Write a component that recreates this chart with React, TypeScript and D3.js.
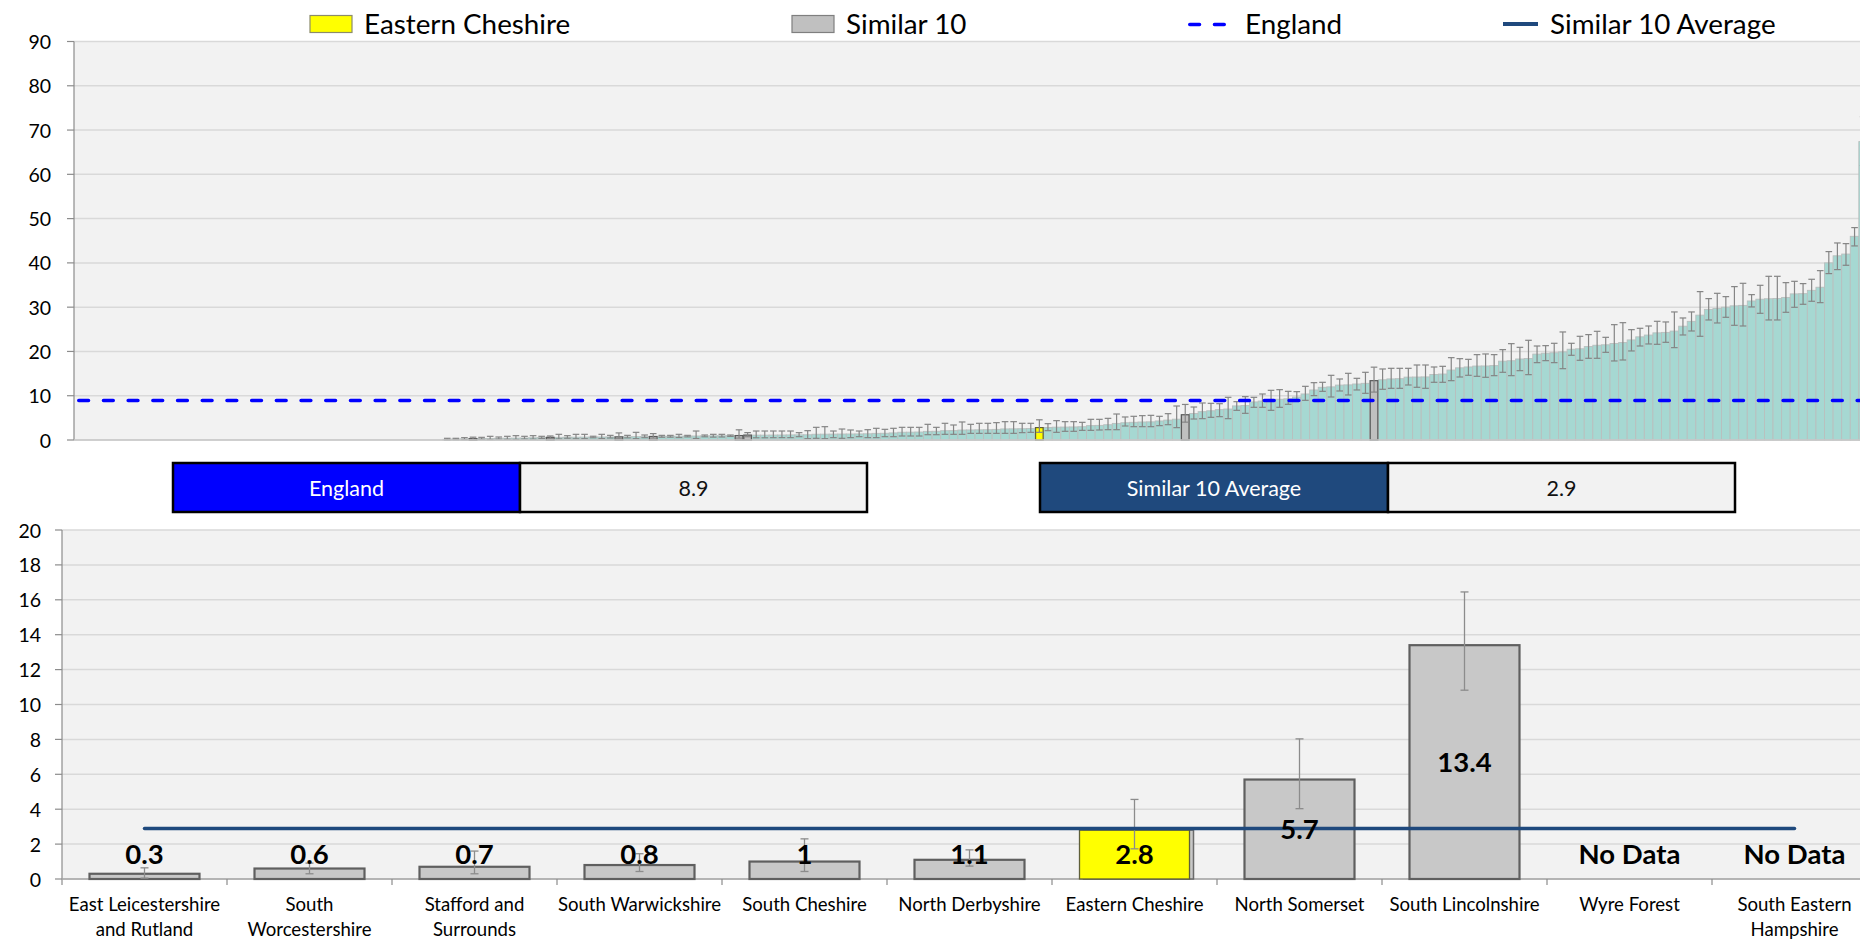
import React from 'react';
import * as d3 from 'd3';

const W = 1860;
const H = 939;

// ---------- Top chart: all areas ranked (slots without data first) ----------
const noDataSlots = 43;
const rankedRates = [
  0.15, 0.2, 0.25, 0.3, 0.32, 0.35, 0.38, 0.4, 0.42, 0.45,
  0.5, 0.55, 0.6, 0.6, 0.62, 0.63, 0.65, 0.66, 0.68, 0.7,
  0.7, 0.72, 0.75, 0.78, 0.8, 0.82, 0.84, 0.86, 0.88, 0.9,
  0.92, 0.94, 0.96, 0.98, 1.0, 1.1, 1.1, 1.1, 1.12, 1.13,
  1.15, 1.16, 1.18, 1.3, 1.32, 1.33, 1.35, 1.36, 1.37, 1.4,
  1.5, 1.52, 1.6, 1.75, 1.77, 1.8, 1.95, 1.97, 2.1, 2.12,
  2.25, 2.27, 2.3, 2.32, 2.4, 2.5, 2.52, 2.55, 2.6, 2.8,
  2.82, 2.9, 2.92, 2.95, 3.0, 3.25, 3.3, 3.45, 3.75, 3.9,
  4.0, 4.07, 4.1, 4.3, 4.5, 4.7, 5.7, 6.0, 6.4, 6.6,
  6.85, 7.0, 7.7, 7.8, 8.6, 8.8, 8.9, 9.2, 9.3, 9.7,
  10.4, 11.3, 11.9, 12.0, 12.4, 12.45, 12.65, 12.8, 13.4, 13.6,
  13.8, 13.85, 14.2, 14.22, 14.25, 14.8, 14.9, 15.8, 16.3, 16.5,
  16.7, 16.72, 16.8, 17.8, 17.9, 18.3, 18.4, 19.4, 19.6, 19.7,
  19.9, 20.5, 20.6, 21.1, 21.4, 21.5, 21.8, 22.0, 22.6, 23.3,
  23.7, 24.2, 24.3, 24.6, 25.7, 26.8, 28.2, 29.5, 29.7, 30.0,
  30.3, 30.4, 31.4, 31.8, 31.9, 31.95, 32.2, 33.0, 33.05, 33.8,
  34.5, 40.0, 41.6, 42.0, 46.0, 67.4,
];
const rankedLower = [
  0.03, 0.08, 0.08, 0.05, 0.15, 0.1, 0.2, 0.15, 0.12, 0.22,
  0.2, 0.35, 0.3, 0.25, 0.4, 0.28, 0.3, 0.5, 0.33, 0.45,
  0.3, 0.48, 0.3, 0.52, 0.43, 0.62, 0.64, 0.55, 0.7, 0.35,
  0.72, 0.65, 0.68, 0.8, 0.43, 0.74, 0.5, 0.5, 0.52, 0.53,
  0.53, 0.75, 0.3, 0.38, 0.3, 0.53, 0.38, 0.53, 0.75, 0.53,
  0.53, 0.75, 0.75, 0.9, 0.9, 0.9, 1.2, 1.2, 1.28, 1.28,
  1.28, 1.5, 1.5, 1.5, 1.5, 1.5, 1.5, 1.66, 1.73, 1.73,
  2.11, 1.73, 1.96, 1.96, 2.18, 2.18, 2.26, 2.33, 2.33, 3.16,
  3.01, 3.01, 3.01, 3.24, 3.46, 2.79, 4.03, 4.74, 4.82, 5.12,
  5.27, 4.82, 6.7, 6.02, 7.38, 7.38, 6.7, 7.38, 8.06, 8.73,
  8.96, 10.02, 10.99, 9.71, 11.07, 10.17, 11.3, 10.54, 10.82, 11.45,
  11.67, 11.67, 12.42, 11.9, 11.67, 13.03, 13.03, 13.4, 14.23, 14.61,
  14.38, 14.16, 14.53, 15.29, 14.53, 15.66, 14.76, 17.47, 17.92, 17.47,
  16.11, 19.13, 18.0, 18.45, 18.45, 19.8, 17.85, 18.07, 20.11, 21.23,
  21.69, 21.61, 22.06, 20.86, 23.72, 24.62, 23.42, 27.11, 26.43, 27.71,
  25.9, 25.75, 30.05, 28.61, 27.11, 27.11, 28.84, 29.97, 30.65, 31.33,
  31.02, 37.58, 38.48, 39.46, 43.83, 62.0,
];
const rankedUpper = [
  0.38, 0.38, 0.53, 0.64, 0.6, 0.83, 0.68, 0.83, 0.98, 0.83,
  0.98, 0.83, 0.91, 1.28, 0.98, 1.28, 1.28, 0.85, 1.28, 1.05,
  1.6, 1.05, 1.73, 1.13, 1.45, 1.05, 1.05, 1.28, 1.05, 2.03,
  1.13, 1.28, 1.28, 1.13, 2.3, 1.67, 2.03, 2.03, 2.03, 2.03,
  2.03, 1.66, 2.11, 2.86, 3.01, 2.03, 2.48, 2.26, 2.03, 2.33,
  2.64, 2.41, 2.64, 2.86, 2.86, 2.86, 3.54, 2.86, 3.77, 3.39,
  4.07, 3.54, 3.77, 3.77, 3.92, 4.14, 4.14, 3.77, 3.77, 4.56,
  3.69, 4.37, 4.14, 4.14, 3.99, 4.67, 4.67, 4.89, 5.87, 5.2,
  5.35, 5.5, 5.57, 5.35, 5.95, 7.68, 8.03, 7.45, 8.36, 8.28,
  8.2, 9.64, 8.66, 9.79, 9.64, 10.39, 11.22, 11.37, 10.99, 10.92,
  12.12, 12.95, 13.03, 14.61, 13.78, 15.06, 13.93, 15.29, 16.45, 16.04,
  16.19, 16.19, 16.19, 16.94, 16.94, 16.49, 16.64, 18.6, 18.37, 18.22,
  19.28, 19.43, 19.28, 20.41, 21.76, 20.93, 22.52, 21.23, 21.31, 21.84,
  24.4, 21.84, 23.42, 23.8, 24.55, 23.19, 26.05, 26.5, 24.92, 25.23,
  25.75, 26.81, 26.66, 28.92, 27.56, 28.92, 33.51, 31.93, 33.13, 32.38,
  34.64, 35.39, 32.83, 34.94, 36.97, 36.97, 35.54, 35.84, 35.32, 36.3,
  38.25, 42.55, 44.5, 44.35, 47.97, 73.0,
];
const topTicks = [0, 10, 20, 30, 40, 50, 60, 70, 80, 90];

// ---------- Reference values ----------
const englandValue = 8.9;
const similarAverage = 2.9;

// ---------- Bottom chart: focus area and its similar 10 ----------
const focusArea = 'Eastern Cheshire';
const similarNames = [
  'East Leicestershire and Rutland', 'South Worcestershire', 'Stafford and Surrounds',
  'South Warwickshire', 'South Cheshire', 'North Derbyshire', 'Eastern Cheshire',
  'North Somerset', 'South Lincolnshire', 'Wyre Forest', 'South Eastern Hampshire',
];
const similarLabelLines = [
  ['East Leicestershire', 'and Rutland'], ['South', 'Worcestershire'], ['Stafford and', 'Surrounds'],
  ['South Warwickshire'], ['South Cheshire'], ['North Derbyshire'], ['Eastern Cheshire'],
  ['North Somerset'], ['South Lincolnshire'], ['Wyre Forest'], ['South Eastern', 'Hampshire'],
];
const similarValues: (number | null)[] = [0.3, 0.6, 0.7, 0.8, 1, 1.1, 2.8, 5.7, 13.4, null, null];
const similarLower: (number | null)[] = [0.05, 0.3, 0.3, 0.43, 0.43, 0.74, 1.73, 4.03, 10.82, null, null];
const similarUpper: (number | null)[] = [0.64, 0.91, 1.6, 1.45, 2.3, 1.67, 4.56, 8.03, 16.45, null, null];
const similarRankSlot: (number | null)[] = [46, 55, 63, 67, 77, 78, 112, 129, 151, null, null];
const bottomTicks = [0, 2, 4, 6, 8, 10, 12, 14, 16, 18, 20];

const FONT = 'Lato, "Open Sans", sans-serif';
const TEAL = '#a6d8d2';
const GRID = '#d9d9d9';
const PLOTBG = '#f2f2f2';
const NAVY = '#1f497d';

export default function App() {
  const totalSlots = noDataSlots + rankedRates.length;
  const slotStep = 8.581;
  const topLeft = 74;
  const xTop = d3.scaleBand<number>()
    .domain(d3.range(totalSlots))
    .range([topLeft, topLeft + totalSlots * slotStep])
    .padding(0);
  const yTop = d3.scaleLinear().domain([0, 90]).range([440, 41.5]);

  const botLeft = 62;
  const catStep = 165;
  const xBot = d3.scaleBand<string>()
    .domain(similarNames)
    .range([botLeft, botLeft + similarNames.length * catStep])
    .paddingInner(1 / 3)
    .paddingOuter(1 / 6);
  const yBot = d3.scaleLinear().domain([0, 20]).range([879, 530]);

  const bw = xTop.bandwidth();
  const capTop = 3.3;
  const capBot = 4;

  const englandY = yTop(englandValue);
  const legendY = 23.5;

  return (
    <svg width={W} height={H} style={{ position: 'absolute', left: 0, top: 0, background: '#fff' }}
      fontFamily={FONT}>
      {/* ---------------- Legend ---------------- */}
      <g>
        <rect x={310} y={15.5} width={42} height={17} fill="#ffff00" stroke="#8c8c6a" strokeWidth={1.2} />
        <text x={364} y={legendY} fontSize={27.8} dominantBaseline="central">Eastern Cheshire</text>
        <rect x={792} y={15.5} width={42} height={17} fill="#c0c0c0" stroke="#7f7f7f" strokeWidth={1.2} />
        <text x={846} y={legendY} fontSize={27.8} dominantBaseline="central">Similar 10</text>
        <line x1={1189.75} x2={1227} y1={24.5} y2={24.5} stroke="#0000ff" strokeWidth={3.5}
          strokeDasharray="9.8 14.9" strokeLinecap="round" />
        <text x={1245} y={legendY} fontSize={27.8} dominantBaseline="central">England</text>
        <line x1={1503} x2={1538} y1={24} y2={24} stroke={NAVY} strokeWidth={4} />
        <text x={1550} y={legendY} fontSize={27.8} dominantBaseline="central">Similar 10 Average</text>
      </g>

      {/* ---------------- Top chart ---------------- */}
      <rect x={topLeft} y={yTop(90)} width={W - topLeft} height={yTop(0) - yTop(90)} fill={PLOTBG} />
      {topTicks.map(t => (
        <g key={'tg' + t}>
          <line x1={topLeft} x2={W} y1={yTop(t)} y2={yTop(t)} stroke={GRID} strokeWidth={1.5} />
          <line x1={topLeft - 7} x2={topLeft} y1={yTop(t)} y2={yTop(t)} stroke="#8c8c8c" strokeWidth={1.2} />
          <text x={51} y={yTop(t)} fontSize={19.5} textAnchor="end" dominantBaseline="central">{t}</text>
        </g>
      ))}
      <line x1={topLeft} x2={topLeft} y1={yTop(90)} y2={yTop(0)} stroke="#8c8c8c" strokeWidth={1.2} />

      {rankedRates.map((v, i) => {
        const slot = noDataSlots + i;
        const x = xTop(slot)!;
        return (
          <rect key={'tb' + i} x={x} y={yTop(v)} width={bw} height={yTop(0) - yTop(v)}
            fill={TEAL} stroke="#b9bfbe" strokeWidth={0.9} />
        );
      })}
      {similarRankSlot.map((slot, k) => {
        if (slot == null) return null;
        const v = rankedRates[slot - noDataSlots];
        const isFocus = similarNames[k] === focusArea;
        return (
          <rect key={'th' + k} x={xTop(slot)! + 0.5} y={yTop(v)} width={bw - 1} height={yTop(0) - yTop(v)}
            fill={isFocus ? '#ffff00' : '#c0c0c0'} stroke={isFocus ? '#5f5f3a' : '#5a5a5a'} strokeWidth={1.2} />
        );
      })}
      {rankedRates.map((v, i) => {
        const slot = noDataSlots + i;
        const cx = xTop(slot)! + bw / 2;
        const lo = yTop(rankedLower[i]);
        const hi = yTop(rankedUpper[i]);
        return (
          <g key={'te' + i} stroke="#858585" strokeWidth={1.2}>
            <line x1={cx} x2={cx} y1={lo} y2={hi} />
            <line x1={cx - capTop} x2={cx + capTop} y1={hi} y2={hi} />
            <line x1={cx - capTop} x2={cx + capTop} y1={lo} y2={lo} />
          </g>
        );
      })}
      <line x1={topLeft} x2={W} y1={yTop(0)} y2={yTop(0)} stroke="#c8c8c8" strokeWidth={1.5} />
      <line x1={78.75} x2={W} y1={englandY} y2={englandY} stroke="#0000ff" strokeWidth={3.5}
        strokeDasharray="9.8 14.9" strokeLinecap="round" />

      {/* ---------------- Info boxes ---------------- */}
      <g>
        <rect x={173} y={463} width={347} height={49} fill="#0000ff" stroke="#000" strokeWidth={2.5} />
        <text x={346.5} y={487.5} fontSize={21.5} fill="#fff" textAnchor="middle" dominantBaseline="central">England</text>
        <rect x={520} y={463} width={347} height={49} fill="#f2f2f2" stroke="#000" strokeWidth={2.5} />
        <text x={693.5} y={487.5} fontSize={21.5} fill="#111" textAnchor="middle" dominantBaseline="central">{englandValue}</text>
        <rect x={1040} y={463} width={348} height={49} fill={NAVY} stroke="#000" strokeWidth={2.5} />
        <text x={1214} y={487.5} fontSize={21.5} fill="#fff" textAnchor="middle" dominantBaseline="central">Similar 10 Average</text>
        <rect x={1388} y={463} width={347} height={49} fill="#f2f2f2" stroke="#000" strokeWidth={2.5} />
        <text x={1561.5} y={487.5} fontSize={21.5} fill="#111" textAnchor="middle" dominantBaseline="central">{similarAverage}</text>
      </g>

      {/* ---------------- Bottom chart ---------------- */}
      <rect x={botLeft} y={yBot(20)} width={W - botLeft} height={yBot(0) - yBot(20)} fill={PLOTBG} />
      {bottomTicks.map(t => (
        <g key={'bg' + t}>
          <line x1={botLeft} x2={W} y1={yBot(t)} y2={yBot(t)} stroke={GRID} strokeWidth={1.5} />
          <line x1={botLeft - 7} x2={botLeft} y1={yBot(t)} y2={yBot(t)} stroke="#8c8c8c" strokeWidth={1.2} />
          <text x={41} y={yBot(t)} fontSize={19.5} textAnchor="end" dominantBaseline="central">{t}</text>
        </g>
      ))}
      <line x1={botLeft} x2={botLeft} y1={yBot(20)} y2={yBot(0) + 6} stroke="#8c8c8c" strokeWidth={1.2} />
      <line x1={botLeft} x2={W} y1={yBot(0)} y2={yBot(0)} stroke="#a6a6a6" strokeWidth={1.5} />
      {similarNames.map((n, k) => {
        const bx = xBot(n)! - xBot.step() * (1 / 6) + xBot.step();
        return <line key={'bt' + k} x1={bx} x2={bx} y1={yBot(0)} y2={yBot(0) + 6} stroke="#8c8c8c" strokeWidth={1.2} />;
      })}

      {similarNames.map((n, k) => {
        const v = similarValues[k];
        if (v == null) return null;
        const x = xBot(n)!;
        const w = xBot.bandwidth();
        const isFocus = n === focusArea;
        if (isFocus) {
          return (
            <g key={'bb' + k}>
              <rect x={x + 4} y={yBot(v)} width={w} height={yBot(0) - yBot(v)} fill="#c8c8c8" stroke="#6a6a6a" strokeWidth={1.5} />
              <rect x={x} y={yBot(v)} width={w} height={yBot(0) - yBot(v)} fill="#ffff00" stroke="#5f5f3a" strokeWidth={1.3} />
            </g>
          );
        }
        return (
          <rect key={'bb' + k} x={x} y={yBot(v)} width={w} height={yBot(0) - yBot(v)}
            fill="#c8c8c8" stroke="#5f5f5f" strokeWidth={2.2} />
        );
      })}
      {similarNames.map((n, k) => {
        const lo = similarLower[k];
        const hi = similarUpper[k];
        if (lo == null || hi == null) return null;
        const cx = xBot(n)! + xBot.bandwidth() / 2;
        return (
          <g key={'be' + k} stroke="#8c8c8c" strokeWidth={1.3}>
            <line x1={cx} x2={cx} y1={yBot(lo)} y2={yBot(hi)} />
            <line x1={cx - capBot} x2={cx + capBot} y1={yBot(hi)} y2={yBot(hi)} />
            <line x1={cx - capBot} x2={cx + capBot} y1={yBot(lo)} y2={yBot(lo)} />
          </g>
        );
      })}
      <line
        x1={xBot(similarNames[0])! + xBot.bandwidth() / 2}
        x2={xBot(similarNames[similarNames.length - 1])! + xBot.bandwidth() / 2}
        y1={yBot(similarAverage)} y2={yBot(similarAverage)}
        stroke={NAVY} strokeWidth={3.5} strokeLinecap="round" />
      {similarNames.map((n, k) => {
        const v = similarValues[k];
        const cx = xBot(n)! + xBot.bandwidth() / 2;
        const ly = yBot(v == null ? 1.4 : Math.max(v / 2, 1.4)) - 1;
        return (
          <text key={'bl' + k} x={cx} y={ly} fontSize={27.5} fontWeight={700} textAnchor="middle"
            dominantBaseline="central">{v == null ? 'No Data' : String(v)}</text>
        );
      })}
      {similarNames.map((n, k) => {
        const cx = xBot(n)! + xBot.bandwidth() / 2;
        return (
          <text key={'bn' + k} x={cx} y={904} fontSize={18.6} textAnchor="middle" dominantBaseline="central">
            {similarLabelLines[k].map((line, j) => (
              <tspan key={j} x={cx} dy={j === 0 ? 0 : 25}>{line}</tspan>
            ))}
          </text>
        );
      })}
    </svg>
  );
}
